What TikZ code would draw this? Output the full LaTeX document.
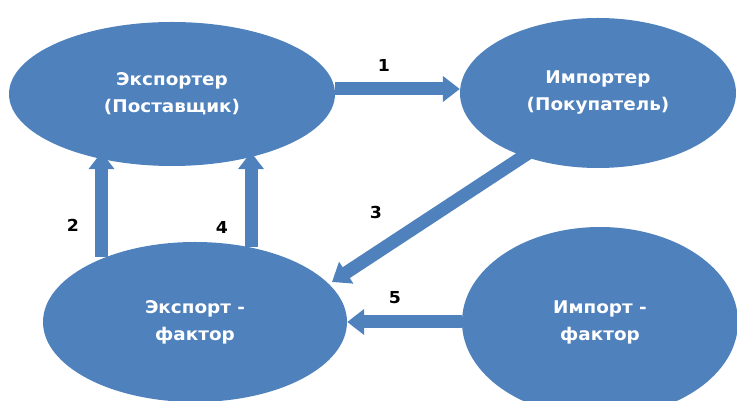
\documentclass[tikz,border=0pt]{standalone}
\usepackage{fontspec}
\newfontfamily\partyfont{DejaVu Sans}[FakeStretch=1.05]
\usetikzlibrary{shapes.geometric, arrows.meta}
\definecolor{officeblue}{HTML}{4F81BD}

\begin{document}
\begin{tikzpicture}[x=1pt,y=1pt,
	party/.style={ellipse, fill=officeblue, inner sep=0pt, text=white, align=center,
		font=\partyfont\bfseries\fontsize{17.5}{27}\selectfont},
	flow/.style={officeblue, line width=13pt, -{Triangle[width=25pt,length=17pt]}},
	num/.style={font=\partyfont\bfseries\fontsize{16.5}{18}\selectfont}]
		\useasboundingbox (0,0) rectangle (737,401);
		\node[party, minimum width=326pt, minimum height=144pt] (exp) at (172,307) {Экспортер\\(Поставщик)};
		\node[party, minimum width=276pt, minimum height=150pt] (imp) at (598,308) {Импортер\\(Покупатель)};
		\node[party, minimum width=304pt, minimum height=160pt] (expf) at (195,79) {Экспорт -\\фактор};
		\node[party, minimum width=276pt, minimum height=190pt] (impf) at (600,79) {Импорт -\\фактор};
		
		\draw[flow] ([yshift=5pt]exp.east) -- ([yshift=5pt]exp.east -| imp.west);
		\draw[flow] ([xshift=-93.5pt,yshift=-15pt]expf.north) -- ([xshift=-70.5pt,yshift=14pt]exp.south);
		\draw[flow] ([xshift=-68pt,yshift=-59pt]imp.center) -- ([xshift=137pt,yshift=40pt]expf.center);
		\draw[flow] ([xshift=56pt,yshift=-5pt]expf.north) -- ([xshift=79pt,yshift=14pt]exp.south);
		\draw[flow] (impf.west) -- (expf.east);
		
		\node[num] (n1) at (384,336) {1};
		\node[num] (n2) at (73,176) {2};
		\node[num] (n3) at (376,189) {3};
		\node[num] (n4) at (222,174) {4};
		\node[num] (n5) at (395,103) {5};
	\end{tikzpicture}
\end{document}
